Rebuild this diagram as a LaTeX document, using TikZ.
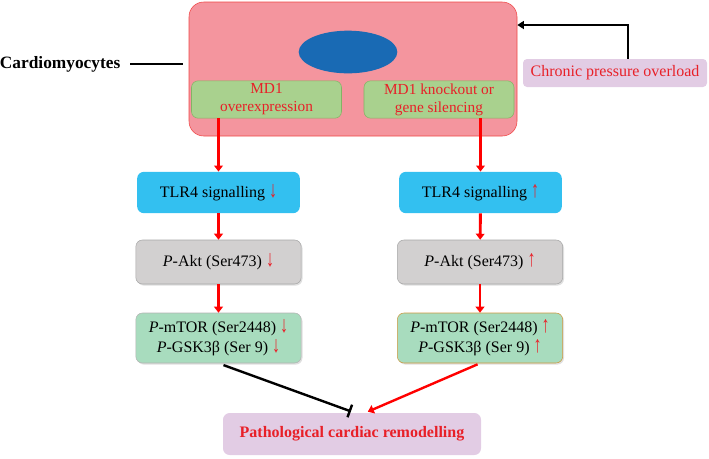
\documentclass[tikz,border=0pt]{standalone}
\usepackage{fontspec}
\setmainfont{Liberation Serif}
\usepackage{xcolor}
\usepackage{tikz}
\usetikzlibrary{shapes.geometric, arrows.meta, positioning, shadows, calc}
\definecolor{cellpink}{RGB}{244, 149, 158}
\definecolor{cellred}{RGB}{240, 70, 70}
\definecolor{nucblue}{RGB}{25, 106, 180}
\definecolor{mdgreen}{RGB}{169, 209, 142}
\definecolor{mdedge}{RGB}{130, 180, 100}
\definecolor{textred}{RGB}{232, 32, 40}
\definecolor{tlrblue}{RGB}{51, 192, 240}
\definecolor{aktgray}{RGB}{210, 208, 208}
\definecolor{mtorgreen}{RGB}{168, 220, 190}
\definecolor{lilac}{RGB}{226, 204, 228}
\definecolor{goldedge}{RGB}{205, 150, 60}
\tikzstyle{stepbox} = [
    rectangle,
    rounded corners=5pt,
    inner sep=0pt,
    align=center,
    font=\fontsize{12}{15}\selectfont
]
\tikzstyle{mdbox} = [
    stepbox,
    minimum width=112.5pt,
    minimum height=28pt,
    fill=mdgreen,
    draw=mdedge,
    text=textred,
    font=\fontsize{11.5}{13.5}\selectfont
]
\tikzstyle{tlrbox} = [stepbox, minimum width=122pt, minimum height=31pt, fill=tlrblue]
\tikzstyle{aktbox} = [stepbox, minimum width=124pt, minimum height=33pt, fill=aktgray, draw=gray!70,
    drop shadow={opacity=0.25, shadow xshift=1pt, shadow yshift=-1.2pt}]
\tikzstyle{mtorbox} = [stepbox, minimum width=124pt, minimum height=37.5pt, fill=mtorgreen, draw=gray!60,
    drop shadow={opacity=0.25, shadow xshift=1pt, shadow yshift=-1.2pt}]
\tikzstyle{arrow} = [
    line width=2.2pt,
    -{Triangle[width=6.5pt, length=4.5pt]},
    color=red
]
\newcommand{\dn}{\textcolor{textred}{\scalebox{1}[1.45]{↓}}}
\newcommand{\up}{\textcolor{textred}{\scalebox{1}[1.45]{↑}}}

\begin{document}
\begin{tikzpicture}[x=0.75pt, y=-0.75pt]
    \useasboundingbox (0,0) rectangle (709,458);
        % Cell
        \node[rectangle, rounded corners=11pt, minimum width=246pt, minimum height=100.5pt,
              fill=cellpink, draw=cellred] (cell) at (353, 69) {};
        \node[ellipse, minimum width=74pt, minimum height=32pt, fill=nucblue, inner sep=0pt] (nucleus) at (348, 52) {};
        \node[mdbox] (overexp) at (266.5, 99.5) {MD1\\overexpression};
        \node[mdbox] (knockout) at (439, 99.5) {MD1 knockout or\\gene silencing};
        \node[anchor=east, font=\fontsize{13}{15}\selectfont\bfseries] (cardio) at (125, 64) {Cardiomyocytes};
        \node[stepbox, minimum width=138pt, minimum height=21pt, fill=lilac, text=textred,
              rounded corners=3pt] (chronic) at (615, 73) {Chronic pressure overload};

        % Steps
        \node[tlrbox] (tlrL) at (218.5, 192.5) {TLR4 signalling \dn};
        \node[tlrbox] (tlrR) at (480.5, 192.5) {TLR4 signalling \up};
        \node[aktbox] (aktL) at (218.5, 262) {\textit{P}-Akt (Ser473) \dn};
        \node[aktbox] (aktR) at (480, 262) {\textit{P}-Akt (Ser473) \up};
        \node[mtorbox] (mtorL) at (218.5, 338) {\textit{P}-mTOR (Ser2448) \dn\\\textit{P}-GSK3β (Ser 9) \dn};
        \node[mtorbox, draw=goldedge] (mtorR) at (480, 338) {\textit{P}-mTOR (Ser2448) \up\\\textit{P}-GSK3β (Ser 9) \up};
        \node[stepbox, minimum width=193.5pt, minimum height=31.5pt, fill=lilac, text=textred,
              font=\fontsize{12}{14}\selectfont\bfseries] (patho) at (352, 434) {Pathological cardiac remodelling};

        % Arrows
        \coordinate (bend) at (628, 25);
        \draw[line width=1.6pt, -{Triangle[width=6pt, length=5pt]}] (bend |- chronic.north) -- (bend) -- (bend -| cell.east);
        \draw[line width=1.6pt, shorten >=4pt] (cardio.east) ++(4pt,0) -- (cardio.east -| cell.west);
        \draw[arrow] (tlrL.north |- overexp.south) -- (tlrL.north);
        \draw[arrow] (tlrR.north |- knockout.south) -- (tlrR.north);
        \draw[arrow] (tlrL) -- (aktL);
        \draw[arrow] (tlrR) -- (aktR);
        \draw[arrow] (aktL) -- (mtorL);
        \draw[arrow] (aktR) -- (mtorR);
        \draw[line width=1.8pt, -{Bar[width=10pt]}, shorten <=4pt, shorten >=3pt] (mtorL.south) -- ([xshift=2pt]patho.north);
        \draw[arrow, line width=1.8pt, shorten <=2pt, shorten >=2pt] (mtorR.south) -- ([xshift=10pt]patho.north);
\end{tikzpicture}
\end{document}
